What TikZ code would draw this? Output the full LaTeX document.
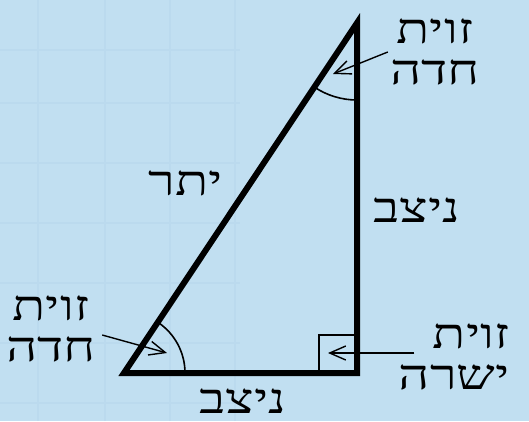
\documentclass[tikz,border=0pt]{standalone}
\usepackage{fontspec}
\newfontfamily\hebfont[Script=Hebrew,FakeStretch=1.3]{Liberation Serif}
\TeXXeTstate=1
\usetikzlibrary{arrows.meta}
\definecolor{skyback}{RGB}{193,223,241}
\definecolor{skygrid}{RGB}{187,218,238}
\newcommand{\heb}[1]{\beginR #1\endR}
\tikzset{
  leg/.style={line width=6pt,line join=miter},
  thinline/.style={line width=1.6pt},
  pointer/.style={line width=1.4pt,-{Straight Barb[length=16pt,width=14pt]}},
  lbl/.style={font=\hebfont\fontsize{42}{41}\selectfont,align=center,inner sep=2pt},
}
\begin{document}
\begin{tikzpicture}[x=1pt,y=1pt]
  \fill[skyback] (0,0) rectangle (529,421);
  \useasboundingbox (0,0) rectangle (529,421);
  % faint grid behind
  \foreach \x in {38,105,170,235}
    \draw[skygrid,line width=1.5pt] (\x,0) -- (\x,421);
  \foreach \y in {18,78,138,198,258,318,371}
    \draw[skygrid,line width=1.5pt] (0,\y) -- (240,\y);
  \coordinate (A) at (124,48);
  \coordinate (B) at (357,48);
  \coordinate (C) at (357,398);
  \draw[thinline] ([shift={(0:61)}]A) arc[start angle=0,end angle=56.3,radius=61];
  \draw[thinline] ([shift={(236.3:77)}]C) arc[start angle=236.3,end angle=270,radius=77];
  \draw[thinline] ([xshift=-38pt]B) rectangle ([yshift=38pt]B);
  \draw[leg] (A) -- (B) -- (C) -- cycle;
  \node[lbl] (acuteC) at (435,369) {\heb{זוית}\\\heb{חדה}};
  \node[lbl] (acuteA) at (51,92) {\heb{זוית}\\\heb{חדה}};
  \node[lbl,align=right,anchor=east] (rightB) at (512,64) {\heb{זוית}\\\heb{ישרה}};
  \node[lbl] (legV) at (417,211) {\heb{ניצב}};
  \node[lbl] (legH) at (243,20) {\heb{ניצב}};
  \node[lbl] (hyp) at (186,238) {\heb{יתר}};
  \coordinate (tipC) at (333,347);
  \coordinate (tipA) at (167,68);
  \coordinate (tipB) at (328,68);
  \draw[pointer] (acuteC.west) -- (tipC);
  \draw[pointer] ([yshift=-6pt,xshift=4pt]acuteA.east) -- (tipA);
  \draw[pointer] ([xshift=18pt,yshift=4pt]rightB.west) -- (tipB);
\end{tikzpicture}
\end{document}
